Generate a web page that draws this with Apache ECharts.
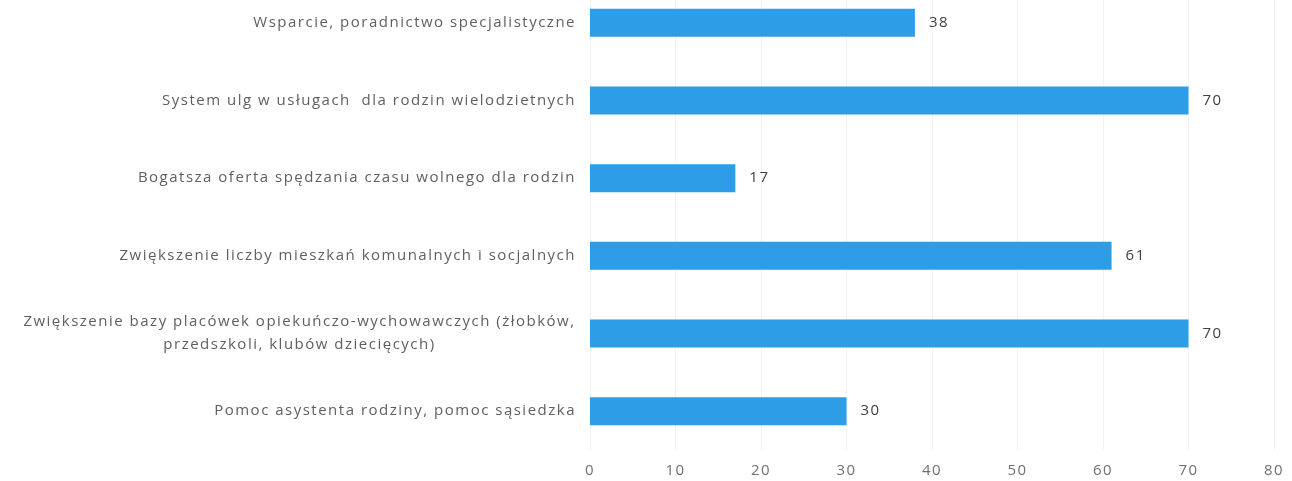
<!DOCTYPE html>
<html>
<head>
<meta charset="utf-8">
<script src="https://cdn.jsdelivr.net/npm/echarts@6/dist/echarts.min.js"></script>
<style>
  html, body { margin: 0; padding: 0; background: #fff; }
  #chart { width: 1292px; height: 481px; }
</style>
</head>
<body>
<div id="chart"></div>
<script>
// kategorie od góry do dołu
const categories = [
    'Wsparcie, poradnictwo specjalistyczne',
    'System ulg w usługach  dla rodzin wielodzietnych',
    'Bogatsza oferta spędzania czasu wolnego dla rodzin',
    'Zwiększenie liczby mieszkań komunalnych i socjalnych',
    'Zwiększenie bazy placówek opiekuńczo-wychowawczych (żłobków,\nprzedszkoli, klubów dziecięcych)',
    'Pomoc asystenta rodziny, pomoc sąsiedzka'
];
const values = [38, 70, 17, 61, 70, 30];
const xTicks = [0, 80, 10];   // min, max, interval

// rozstrzelony tekst jak w oryginale (canvas letterSpacing)
const LS = '1.5px';
const proto = CanvasRenderingContext2D.prototype;
const origFill = proto.fillText, origMeasure = proto.measureText;
proto.fillText = function () { this.letterSpacing = LS; return origFill.apply(this, arguments); };
proto.measureText = function (t) { this.letterSpacing = LS; return origMeasure.call(this, t); };

const font = 'Open Sans';
const labelSize = 15;
const mctx = document.createElement('canvas').getContext('2d');
mctx.font = labelSize + 'px ' + font;
const textWidth = s => mctx.measureText(s).width;

const chart = echarts.init(document.getElementById('chart'));

chart.setOption({
    animation: false,
    grid: {
        left: 590,
        right: 18,
        top: -16,
        bottom: 31,
        containLabel: false,
        outerBoundsMode: 'none'
    },
    xAxis: {
        type: 'value',
        min: xTicks[0],
        max: xTicks[1],
        interval: xTicks[2],
        axisLine: { show: false },
        axisTick: { show: false },
        splitLine: { show: true, lineStyle: { color: '#f2f2f2', width: 1 } },
        axisLabel: { color: '#707070', fontSize: 15, fontFamily: font, margin: 12 }
    },
    yAxis: {
        type: 'category',
        inverse: true,
        data: categories,
        axisLine: { show: false },
        axisTick: { show: false },
        axisLabel: {
            margin: 14,
            color: '#5f5f5f',
            fontSize: labelSize,
            fontFamily: font,
            lineHeight: 23,
            formatter: v => {
                if (v.indexOf('\n') < 0) return v;
                const lines = v.split('\n');
                const w = Math.ceil(Math.max(...lines.map(textWidth)));
                return lines.map(l => '{c' + w + '|' + l + '}').join('\n');
            },
            rich: (() => {
                const r = {};
                categories.filter(c => c.indexOf('\n') >= 0).forEach(c => {
                    const w = Math.ceil(Math.max(...c.split('\n').map(textWidth)));
                    r['c' + w] = { width: w, align: 'center', color: '#5f5f5f', fontSize: labelSize, fontFamily: font, lineHeight: 23 };
                });
                return r;
            })()
        }
    },
    series: [{
        type: 'bar',
        data: values,
        barWidth: 28,
        itemStyle: { color: '#2d9de8' },
        label: {
            show: true,
            position: 'right',
            distance: 14,
            color: '#404040',
            fontSize: 15,
            fontFamily: font
        }
    }]
});
</script>
</body>
</html>
